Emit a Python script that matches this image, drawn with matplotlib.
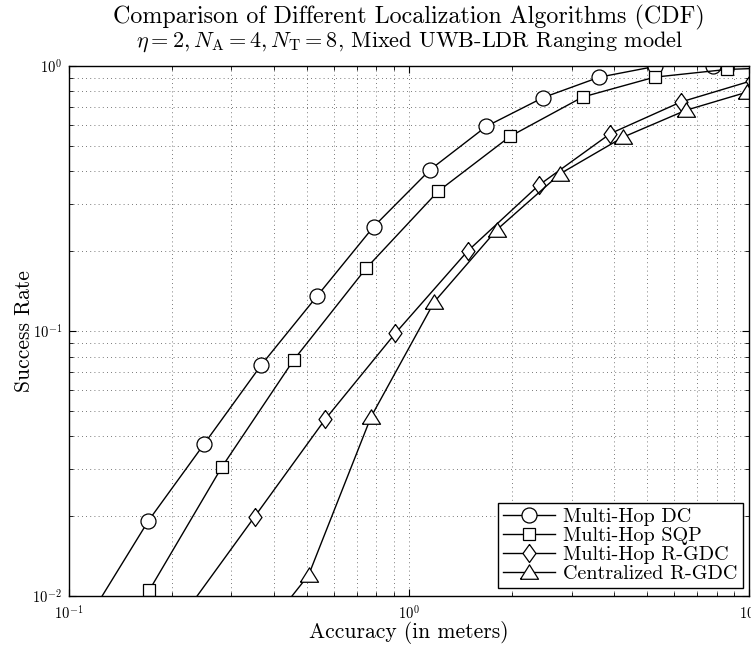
import matplotlib
matplotlib.use("Agg")
import matplotlib.pyplot as plt
from matplotlib.ticker import LogLocator, NullFormatter

plt.rcParams['mathtext.fontset'] = 'custom'
plt.rcParams['mathtext.rm'] = 'Liberation Sans'
plt.rcParams['mathtext.it'] = 'Liberation Sans:italic'
plt.rcParams['mathtext.bf'] = 'Liberation Sans:bold'
plt.rcParams['font.family'] = ['cmr10', 'DejaVu Serif']
plt.rcParams['axes.formatter.use_mathtext'] = True

# ---- data ----
x_dc = [0.117, 0.171, 0.250, 0.367, 0.535, 0.785, 1.153, 1.685, 2.47, 3.62, 5.29, 7.8, 11.4]
y_dc = [0.0087, 0.0192, 0.0376, 0.0743, 0.135, 0.247, 0.406, 0.591, 0.758, 0.906, 0.995, 1.0, 1.0]

x_sqp = [0.1055, 0.172, 0.281, 0.457, 0.746, 1.215, 1.98, 3.23, 5.26, 8.59, 14.0]
y_sqp = [0.0036, 0.0105, 0.0306, 0.0776, 0.172, 0.336, 0.542, 0.762, 0.906, 0.969, 0.99]

x_rgdc = [0.217, 0.351, 0.566, 0.909, 1.484, 2.40, 3.90, 6.28, 10.2]
y_rgdc = [0.0085, 0.0199, 0.0464, 0.0978, 0.200, 0.354, 0.555, 0.730, 0.88]

x_cent = [0.33, 0.506, 0.772, 1.184, 1.81, 2.78, 4.25, 6.49, 9.85]
y_cent = [0.006, 0.012, 0.0474, 0.1286, 0.241, 0.392, 0.538, 0.679, 0.796]

labels = ['Multi-Hop DC', 'Multi-Hop SQP', 'Multi-Hop R-GDC', 'Centralized R-GDC']

title_line1 = 'Comparison of Different Localization Algorithms (CDF)'
title_line2 = r'$\eta = 2, N_{\mathrm{A}} = 4, N_{\mathrm{T}} = 8$, Mixed UWB-LDR Ranging model'
xlabel = 'Accuracy (in meters)'
ylabel = 'Success Rate'

# ---- figure ----
fig = plt.figure(figsize=(7.51, 6.45), dpi=100)
ax = fig.add_axes([0.092, 0.076, 0.906, 0.822])

diamond = [(0, 1), (0.72, 0), (0, -1), (-0.72, 0), (0, 1)]
triangle = [(-1, -0.75), (1, -0.75), (0, 0.85), (-1, -0.75)]

common = dict(color='black', lw=1.0, mfc='white', mec='black', mew=0.9)
ax.plot(x_dc, y_dc, marker='o', ms=10.8, label=labels[0], **common)
ax.plot(x_sqp, y_sqp, marker='s', ms=8.5, label=labels[1], **common)
ax.plot(x_rgdc, y_rgdc, marker=diamond, ms=13, label=labels[2], **common)
ax.plot(x_cent, y_cent, marker=triangle, ms=13, label=labels[3], **common)

ax.set_xscale('log')
ax.set_yscale('log')
ax.set_xlim(0.1, 10)
ax.set_ylim(0.01, 1)

ax.xaxis.set_major_locator(LogLocator(base=10, numticks=10))
ax.yaxis.set_major_locator(LogLocator(base=10, numticks=10))
ax.xaxis.set_minor_locator(LogLocator(base=10, subs=range(2, 10), numticks=20))
ax.yaxis.set_minor_locator(LogLocator(base=10, subs=range(2, 10), numticks=20))
ax.xaxis.set_minor_formatter(NullFormatter())
ax.yaxis.set_minor_formatter(NullFormatter())

ax.grid(True, which='both', linestyle=(0, (1, 4)), color='0.3', lw=0.6)
ax.tick_params(which='both', direction='in', top=True, right=True, labelsize=10.5)
ax.tick_params(which='major', length=5, width=0.8)
ax.tick_params(which='minor', length=3, width=0.6)
ax.tick_params(axis='x', pad=6)
ax.tick_params(axis='y', pad=5)
for s in ax.spines.values():
    s.set_linewidth(1.0)

ax.text(0.5, 1.092, title_line1, transform=ax.transAxes, ha='center', va='center',
        fontsize=17.3)
ax.text(0.5, 1.045, title_line2, transform=ax.transAxes, ha='center', va='center',
        fontsize=16, math_fontfamily='cm')
ax.set_xlabel(xlabel, fontsize=15.5, labelpad=-1)
ax.set_ylabel(ylabel, fontsize=15.5, labelpad=-1)

leg = ax.legend(loc='lower right', bbox_to_anchor=(0.99, 0.015), borderaxespad=0,
                fontsize=14.5, fancybox=False, framealpha=1, edgecolor='black',
                handlelength=2.6, handletextpad=0.4, labelspacing=0.05,
                borderpad=0.25)
leg.get_frame().set_linewidth(1.0)

fig.savefig('out.png', dpi=100)
